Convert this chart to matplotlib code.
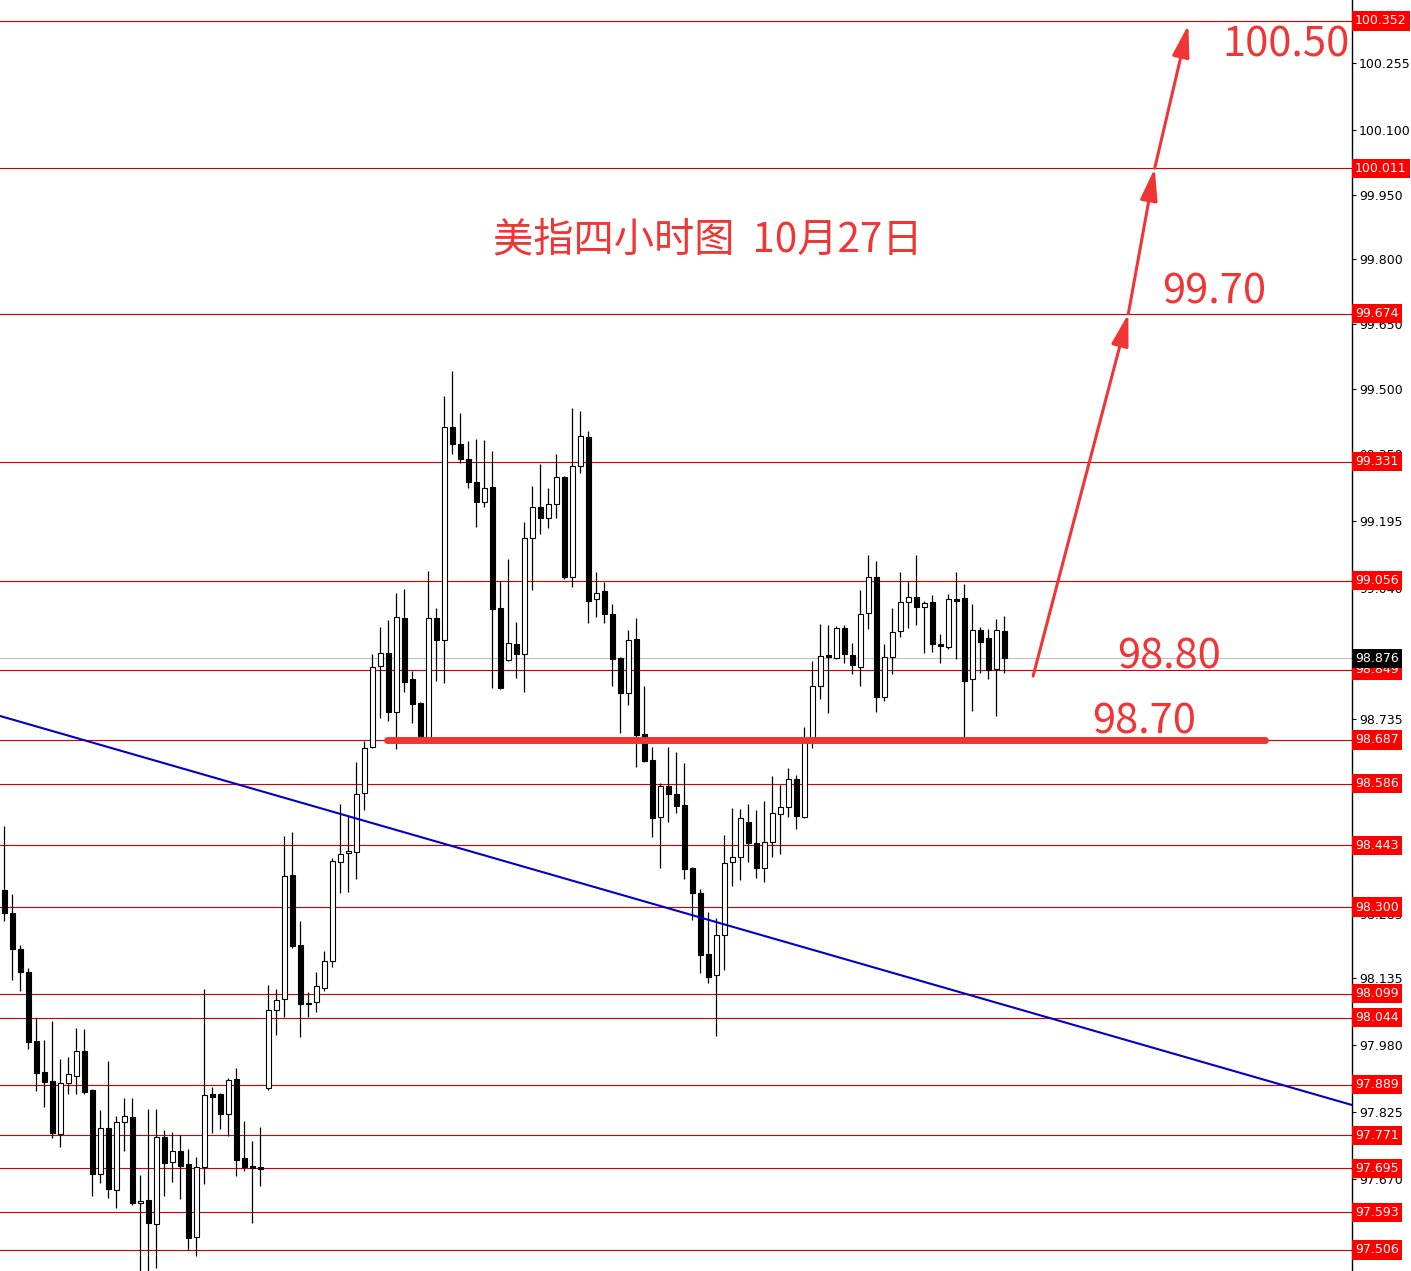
import matplotlib
matplotlib.use('Agg')
import matplotlib.pyplot as plt
import numpy as np

# ---------------- data (4H candles) ----------------
opens = [98.339, 98.287, 98.203, 98.150, 97.990, 97.918, 97.897, 97.774, 97.893, 97.909,
         97.967, 97.876, 97.682, 97.788, 97.645, 97.802, 97.814, 97.615, 97.622, 97.566,
         97.767, 97.710, 97.735, 97.705, 97.536, 97.698, 97.867, 97.867, 97.821, 97.902,
         97.719, 97.700, 97.698, 97.881, 98.062, 98.087, 98.374, 98.212, 98.078, 98.080,
         98.112, 98.175, 98.404, 98.425, 98.428, 98.564, 98.671, 98.858, 98.888, 98.752,
         98.969, 98.828, 98.773, 98.692, 98.969, 98.918, 99.412, 99.372, 99.338, 99.284,
         99.238, 99.273, 98.993, 98.872, 98.909, 98.886, 99.155, 99.226, 99.201, 99.233,
         99.296, 99.064, 99.321, 99.389, 99.013, 99.032, 98.979, 98.877, 98.796, 98.921,
         98.701, 98.641, 98.509, 98.580, 98.562, 98.536, 98.390, 98.333, 98.191, 98.143,
         98.235, 98.404, 98.416, 98.497, 98.448, 98.390, 98.451, 98.516, 98.532, 98.597,
         98.509, 98.682, 98.812, 98.884, 98.877, 98.946, 98.884, 98.856, 98.981, 99.064,
         98.786, 98.879, 98.939, 99.006, 99.018, 98.995, 99.006, 98.909, 98.902, 99.013,
         99.016, 98.828, 98.942, 98.923, 98.851, 98.939]
highs = [98.488, 98.330, 98.212, 98.159, 98.043, 97.992, 98.036, 97.948, 97.953, 98.020,
         98.018, 97.878, 97.830, 97.943, 97.816, 97.858, 97.858, 97.679, 97.832, 97.832,
         97.784, 97.779, 97.772, 97.740, 97.721, 98.110, 97.883, 97.869, 97.904, 97.927,
         97.805, 97.758, 97.791, 98.120, 98.110, 98.465, 98.474, 98.268, 98.103, 98.150,
         98.198, 98.414, 98.539, 98.513, 98.636, 98.685, 98.886, 98.949, 98.965, 99.027,
         99.037, 98.847, 98.775, 99.078, 98.993, 99.483, 99.541, 99.444, 99.379, 99.384,
         99.382, 99.356, 99.055, 99.106, 98.960, 99.192, 99.275, 99.326, 99.270, 99.349,
         99.298, 99.456, 99.449, 99.402, 99.076, 99.053, 99.002, 98.879, 98.942, 98.969,
         98.812, 98.671, 98.587, 98.671, 98.659, 98.634, 98.392, 98.342, 98.289, 98.275,
         98.467, 98.529, 98.527, 98.539, 98.525, 98.546, 98.604, 98.583, 98.622, 98.606,
         98.717, 98.870, 98.956, 98.953, 98.951, 98.953, 98.912, 99.034, 99.115, 99.101,
         98.909, 98.993, 99.076, 99.055, 99.115, 99.008, 99.023, 98.932, 99.025, 99.076,
         99.048, 99.002, 98.949, 98.944, 98.967, 98.974]
lows = [98.268, 98.131, 98.106, 97.971, 97.874, 97.837, 97.765, 97.744, 97.867, 97.867,
        97.867, 97.631, 97.661, 97.626, 97.603, 97.735, 97.610, 97.450, 97.450, 97.464,
        97.631, 97.663, 97.624, 97.506, 97.492, 97.659, 97.777, 97.786, 97.770, 97.677,
        97.689, 97.568, 97.654, 97.876, 98.004, 98.045, 98.205, 97.999, 98.045, 98.057,
        98.106, 98.161, 98.333, 98.335, 98.365, 98.525, 98.668, 98.738, 98.731, 98.666,
        98.798, 98.726, 98.687, 98.690, 98.824, 98.819, 99.349, 99.328, 99.270, 99.180,
        99.226, 98.807, 98.805, 98.870, 98.830, 98.798, 99.034, 99.164, 99.178, 99.201,
        99.060, 99.041, 99.305, 98.958, 98.972, 98.958, 98.812, 98.703, 98.768, 98.624,
        98.636, 98.462, 98.390, 98.497, 98.518, 98.365, 98.270, 98.147, 98.124, 98.001,
        98.154, 98.349, 98.363, 98.404, 98.367, 98.358, 98.416, 98.423, 98.509, 98.481,
        98.506, 98.668, 98.782, 98.749, 98.875, 98.865, 98.840, 98.812, 98.944, 98.752,
        98.777, 98.840, 98.925, 98.946, 98.953, 98.888, 98.891, 98.865, 98.898, 98.874,
        98.687, 98.754, 98.842, 98.828, 98.742, 98.842]
closes = [98.286, 98.203, 98.150, 97.987, 97.916, 97.895, 97.777, 97.893, 97.913, 97.967,
          97.872, 97.682, 97.788, 97.647, 97.802, 97.816, 97.615, 97.619, 97.568, 97.767,
          97.707, 97.735, 97.700, 97.534, 97.698, 97.865, 97.860, 97.821, 97.899, 97.714,
          97.698, 97.696, 97.693, 98.062, 98.085, 98.372, 98.210, 98.075, 98.075, 98.117,
          98.175, 98.407, 98.423, 98.430, 98.562, 98.668, 98.856, 98.888, 98.752, 98.972,
          98.821, 98.770, 98.692, 98.969, 98.918, 99.412, 99.372, 99.338, 99.284, 99.238,
          99.270, 98.990, 98.807, 98.912, 98.886, 99.155, 99.226, 99.201, 99.233, 99.296,
          99.064, 99.321, 99.391, 99.009, 99.027, 98.979, 98.874, 98.796, 98.918, 98.698,
          98.638, 98.506, 98.580, 98.562, 98.534, 98.388, 98.333, 98.189, 98.138, 98.235,
          98.402, 98.416, 98.506, 98.448, 98.390, 98.451, 98.518, 98.532, 98.597, 98.511,
          98.685, 98.812, 98.881, 98.879, 98.946, 98.886, 98.861, 98.979, 99.064, 98.786,
          98.879, 98.937, 99.006, 99.018, 98.995, 99.004, 98.909, 98.905, 99.013, 99.009,
          98.824, 98.942, 98.914, 98.849, 98.942, 98.876]

# horizontal price levels (red lines with red labels)
levels = [100.352, 100.011, 99.674, 99.331, 99.056, 98.849, 98.687, 98.586, 98.443,
          98.300, 98.099, 98.044, 97.889, 97.771, 97.695, 97.593, 97.506]
current_price = 98.876
axis_ticks = [100.255, 100.100, 99.950, 99.800, 99.650, 99.500, 99.350, 99.195, 99.040,
              98.735, 98.285, 98.135, 97.980, 97.825, 97.670, 97.515]

# annotations
title_text = '美指四小时图  10月27日'
target_labels = ['100.50', '99.70', '98.80', '98.70']
target_label_prices = [100.296, 99.724, 98.879, 98.729]
target_label_bars = [152.2, 144.7, 139.1, 136.0]
arrow_bars = [128.6, 140.5, 143.8, 148.0]
arrow_prices = [98.835, 99.674, 100.011, 100.343]
support_price = 98.687
support_bars = [47.8, 157.6]
trend_bars = [-0.54, 168.46]
trend_prices = [98.7425, 97.8415]

# ---------------- figure ----------------
W, H = 1411, 1271
fig = plt.figure(figsize=(W / 100, H / 100), dpi=100)
ax = fig.add_axes([0, 0, 1352 / W, 1])
ax.set_facecolor('white')

x = np.arange(len(opens))
o = np.array(opens); c = np.array(closes)
hi = np.array(highs); lo = np.array(lows)
up = c >= o

LEVEL_RED = '#d40000'
ANN_RED = '#f03535'

for v in levels:
    ax.axhline(v, color=LEVEL_RED, lw=0.8, zorder=1)
ax.axhline(current_price, color='#c0c0c0', lw=0.8, zorder=1)

ax.plot(trend_bars, trend_prices, color='#0000cc', lw=1.5, zorder=4)

ax.vlines(x, lo, hi, color='black', lw=0.9, zorder=2)
body_h = np.maximum(np.abs(c - o), 0.0015)
ax.bar(x, body_h, bottom=np.minimum(o, c), width=0.62,
       color=np.where(up, 'white', 'black'), edgecolor='black', linewidth=0.8, zorder=3)

# support line
ax.plot(support_bars, [support_price, support_price], color=ANN_RED, lw=5,
        solid_capstyle='round', zorder=5)

# target arrows
for i in range(len(arrow_bars) - 1):
    ax.annotate('', xy=(arrow_bars[i + 1], arrow_prices[i + 1]),
                xytext=(arrow_bars[i], arrow_prices[i]),
                arrowprops=dict(arrowstyle='-|>,head_length=1.3,head_width=0.35',
                                mutation_scale=15, lw=2.2, color=ANN_RED,
                                shrinkA=0, shrinkB=0), zorder=6)

cjk = ['Noto Sans CJK SC', 'DejaVu Sans']
for t, px, py in zip(target_labels, target_label_bars, target_label_prices):
    ax.text(px, py, t, fontsize=30, color=ANN_RED, family=cjk, ha='left', va='center', zorder=7)

ax.text(708 / 1352, 1 - 240 / 1271, title_text, transform=ax.transAxes, fontsize=29,
        color=ANN_RED, family=cjk, ha='center', va='center', zorder=7)

ax.set_xlim(trend_bars[0], trend_bars[1])
ax.set_ylim(97.4571, 100.4006)

for s in ['left', 'top', 'bottom']:
    ax.spines[s].set_visible(False)
ax.spines['right'].set_color('black')
ax.spines['right'].set_linewidth(1.0)
ax.set_xticks([])
ax.yaxis.tick_right()
ax.set_yticks(axis_ticks)
ax.set_yticklabels([f'{t:.3f}' for t in axis_ticks])
ax.tick_params(axis='y', direction='out', length=3, width=0.8, pad=2, labelsize=9,
               colors='black')

trans = ax.get_yaxis_transform()
for v in levels:
    ax.text(1.0 + 3 / 1352, v, f'{v:.3f}', transform=trans, ha='left', va='center',
            fontsize=9, color='white', clip_on=False, zorder=20,
            bbox=dict(boxstyle='square,pad=0.25', fc='#ff0000', ec='none'))
ax.text(1.0 + 3 / 1352, current_price, f'{current_price:.3f}', transform=trans, ha='left',
        va='center', fontsize=9, color='white', clip_on=False, zorder=21,
        bbox=dict(boxstyle='square,pad=0.25', fc='black', ec='none'))

fig.savefig('out.png', dpi=100, facecolor='white')
